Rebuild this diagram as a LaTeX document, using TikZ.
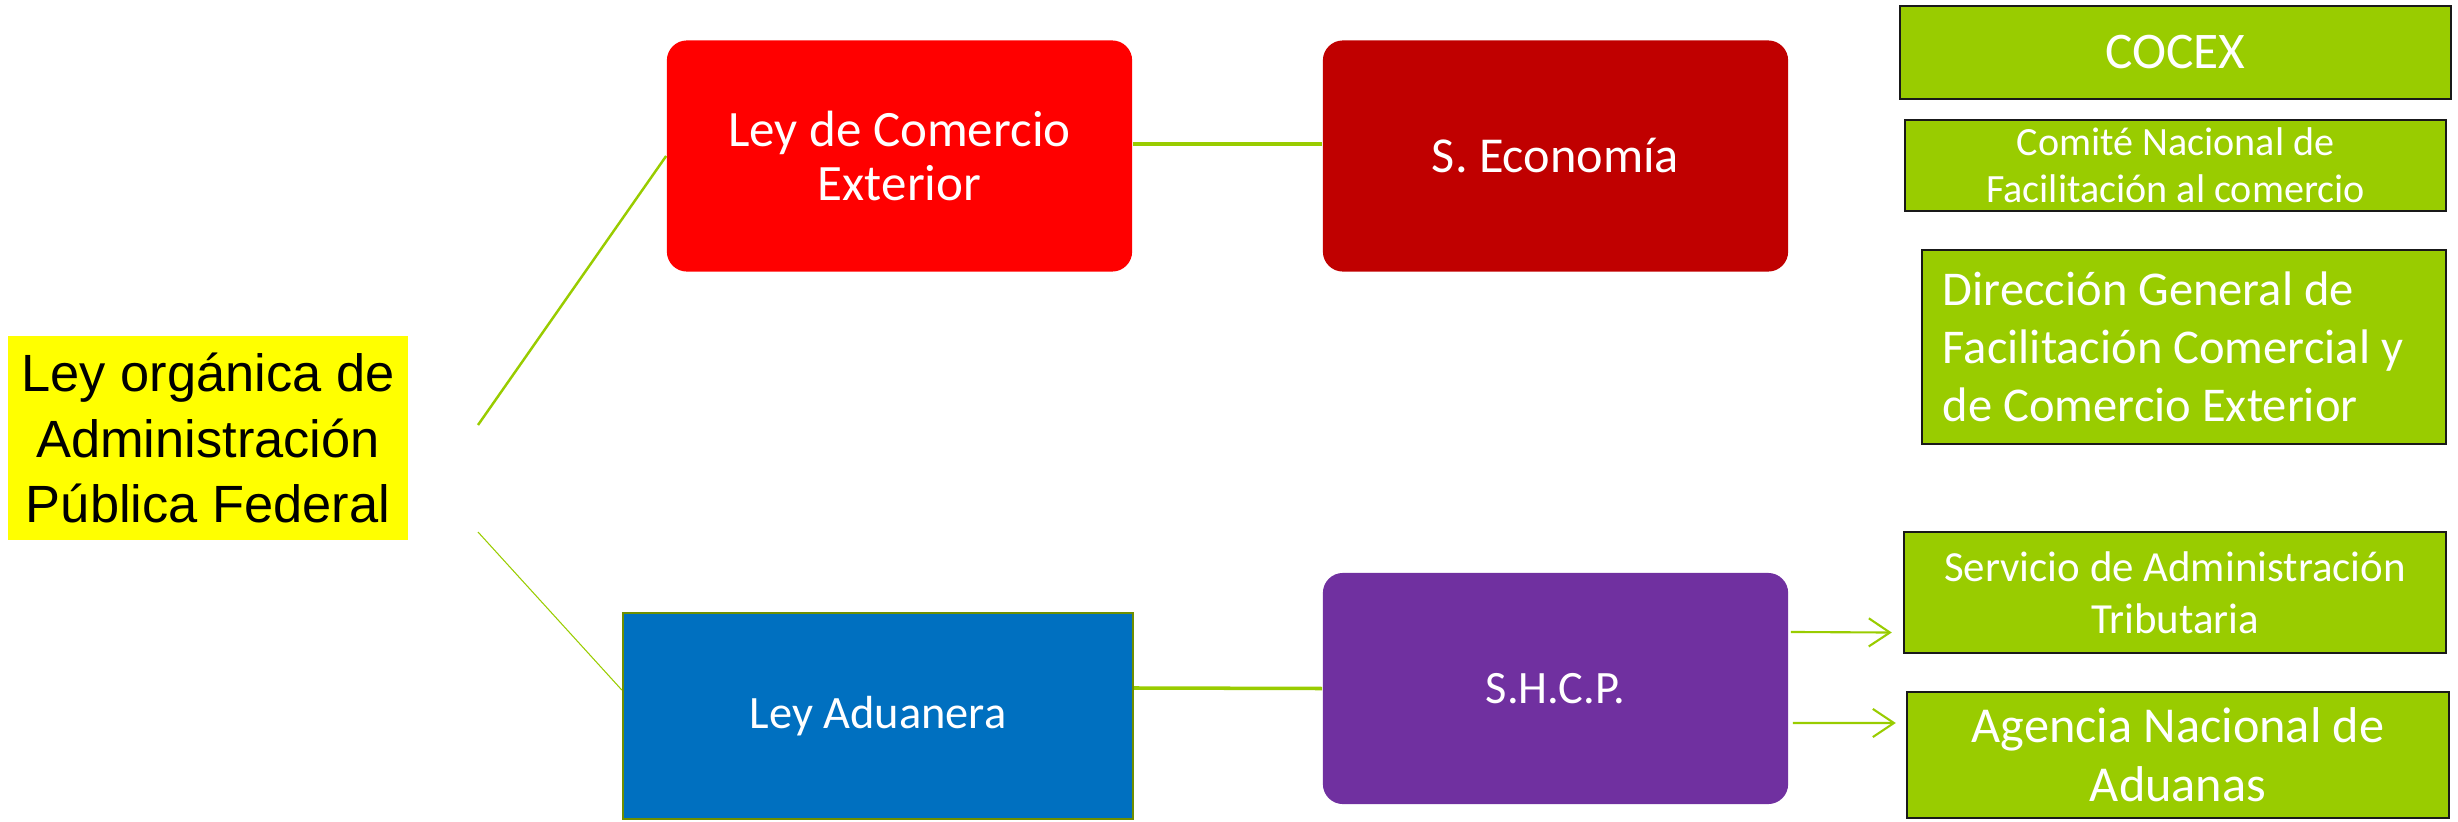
\documentclass[tikz,border=0pt]{standalone}
\usepackage{fontspec}
\setmainfont{Carlito}
\newfontfamily\arialfont{Liberation Sans}
\usetikzlibrary{arrows.meta}
\definecolor{verdehoja}{HTML}{99CC00}
\definecolor{rojo}{HTML}{FF0000}
\definecolor{rojoosc}{HTML}{C00000}
\definecolor{azul}{HTML}{0070C0}
\definecolor{morado}{HTML}{7030A0}
\definecolor{olivo}{HTML}{6F8F00}
\definecolor{amarillo}{HTML}{FFFF00}
\begin{document}
\begin{tikzpicture}[x=0.01cm,y=-0.01cm,
  ley/.style={rounded corners=0.2cm,minimum width=4.65cm,minimum height=2.31cm,inner sep=0pt,text=white,align=center},
  entidad/.style={draw=black!90,line width=0.6pt,fill=verdehoja,text=white,align=center,inner sep=0pt},
  enlace/.style={verdehoja,line width=0.7pt},
  flecha/.style={verdehoja,line width=0.6pt,-{Straight Barb[length=6pt,width=8pt]}}]
\useasboundingbox (0,0) rectangle (2458,821);
\draw (208,438) node[fill=amarillo,minimum width=4cm,minimum height=2.04cm,inner sep=0pt,align=center,font={\arialfont\fontsize{14.9pt}{18.5pt}\selectfont}] (lopf) {Ley orgánica de\\Administración\\Pública Federal};
\draw (899.5,156) node[ley,fill=rojo,font={\fontsize{14.5pt}{15.4pt}\selectfont}] (lce) {Ley de Comercio\\Exterior};
\draw (1555.5,156) node[ley,fill=rojoosc,font={\fontsize{14.3pt}{15.4pt}\selectfont}] (econ) {S. Economía};
\draw (878,716) node[fill=azul,draw=olivo,line width=0.6pt,minimum width=5.1cm,minimum height=2.06cm,inner sep=0pt,text=white,font={\fontsize{13.2pt}{15pt}\selectfont}] (adu) {Ley Aduanera};
\draw (1555.5,688.5) node[ley,fill=morado,font={\fontsize{13.2pt}{15pt}\selectfont}] (shcp) {S.H.C.P.};
\draw (2175.5,52.5) node[entidad,minimum width=5.51cm,minimum height=0.93cm,font={\fontsize{14.6pt}{16pt}\selectfont}] (cocex) {COCEX};
\draw (2175.5,165.5) node[entidad,minimum width=5.41cm,minimum height=0.91cm,font={\fontsize{11.4pt}{13.4pt}\selectfont}] (cnfc) {Comité Nacional de\\Facilitación al comercio};
\draw (2184,347) node[entidad,minimum width=5.24cm,minimum height=1.94cm,inner xsep=0.21cm,text width=4.82cm,align=flush left,font={\fontsize{13.8pt}{16.5pt}\selectfont}] (dgfc) {Dirección General de\\Facilitación Comercial y\\de Comercio Exterior};
\draw (2175,592.5) node[entidad,minimum width=5.42cm,minimum height=1.21cm,font={\fontsize{12.2pt}{14.8pt}\selectfont}] (sat) {Servicio de Administración\\Tributaria};
\draw (2178,755) node[entidad,minimum width=5.42cm,minimum height=1.26cm,font={\fontsize{14.3pt}{16.8pt}\selectfont}] (ana) {Agencia Nacional de\\Aduanas};
% conectores
\coordinate (a1) at (478,425);
\coordinate (a2) at (478,532);
\draw[enlace] (a1) -- (lce.west);
\draw[enlace,line width=0.3pt] (a2) -- ([yshift=0.26cm]adu.west);
\draw[enlace,line width=1pt] ([yshift=0.12cm]lce.east) -- ([yshift=0.12cm]econ.west);
\draw[enlace,line width=1pt] ([yshift=0.28cm]adu.east) -- (shcp.west);
\draw[flecha] ([xshift=0.02cm,yshift=0.565cm]shcp.east) -- ([xshift=-0.11cm,yshift=-0.40cm]sat.west);
\draw[flecha] ([xshift=0.04cm,yshift=-0.345cm]shcp.east) -- ([xshift=-0.10cm,yshift=0.32cm]ana.west);
\end{tikzpicture}
\end{document}
